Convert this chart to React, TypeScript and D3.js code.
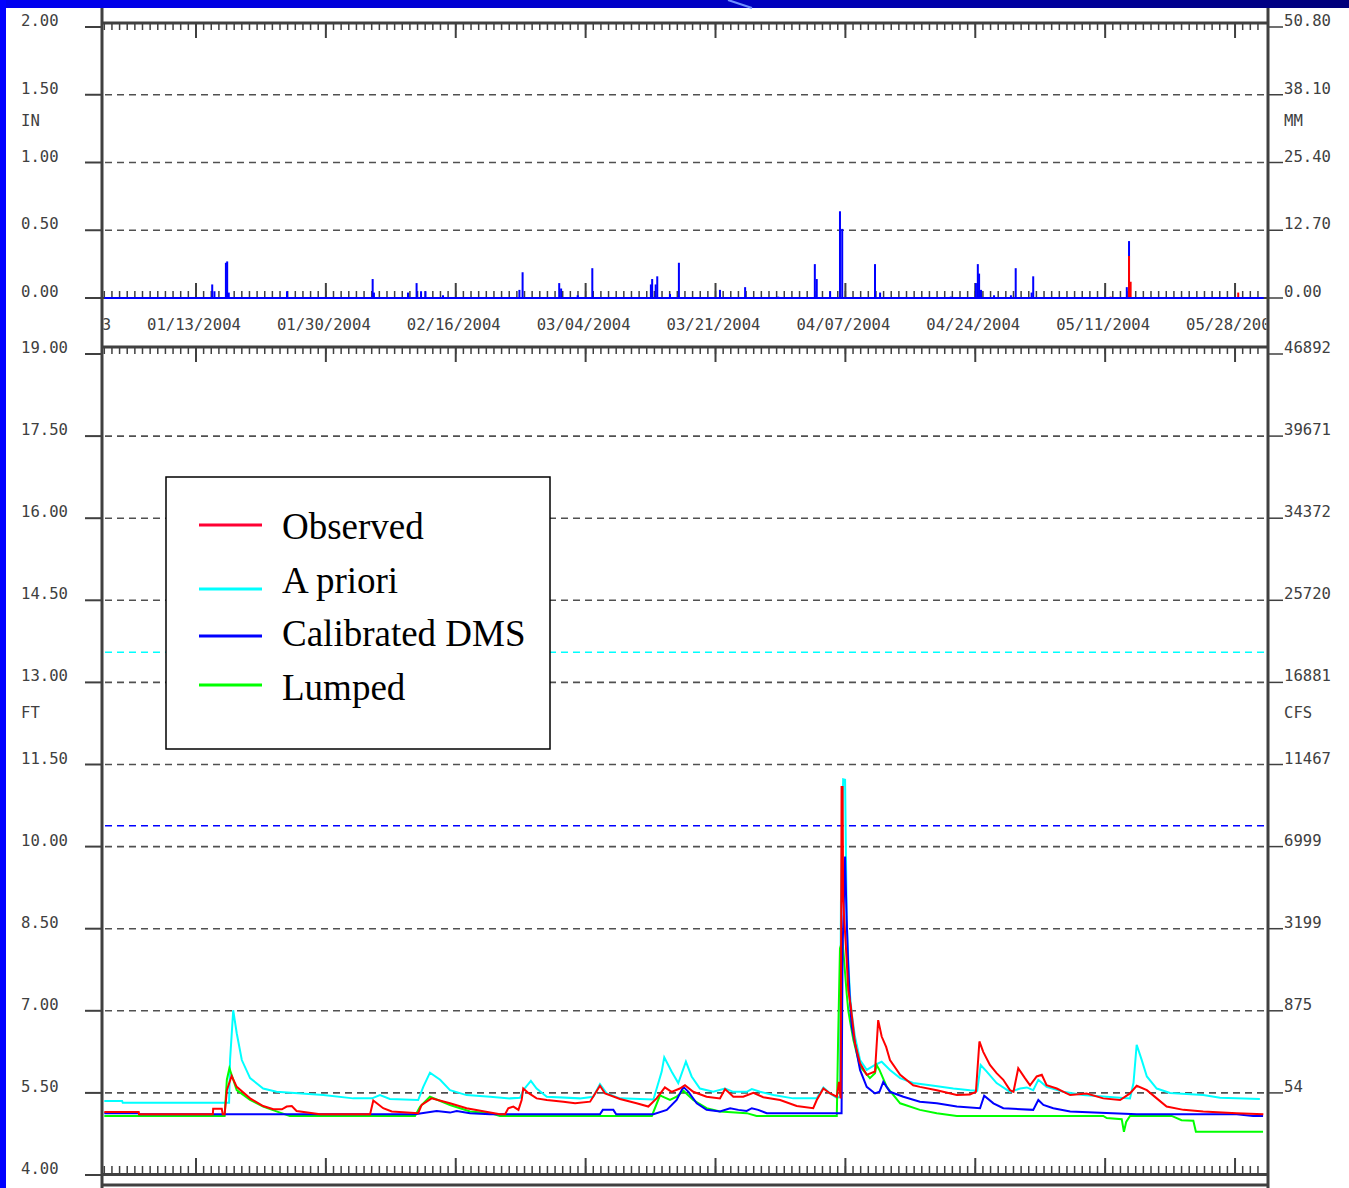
import React from 'react';
import * as d3 from 'd3';

// precipitation (inches), blue = areal estimate, red = gage
const arealPrecip: [string, number][] = [
  ['01-15 03', 0.10], ['01-15 10', 0.05], ['01-16 22', 0.26], ['01-17 02', 0.27], ['01-17 07', 0.04],
  ['01-24 22', 0.05], ['02-05 03', 0.14], ['02-05 07', 0.04], ['02-09 18', 0.04], ['02-10 21', 0.11],
  ['02-11 11', 0.05], ['02-12 01', 0.05], ['02-14 08', 0.02], ['02-24 08', 0.06], ['02-24 18', 0.19],
  ['02-29 13', 0.11], ['02-29 19', 0.07], ['03-02 23', 0.02], ['03-04 21', 0.22], ['03-12 13', 0.10],
  ['03-12 17', 0.14], ['03-13 04', 0.10], ['03-13 09', 0.16], ['03-15 01', 0.03], ['03-16 05', 0.26],
  ['03-21 14', 0.06], ['03-24 21', 0.08], ['03-29 05', 0.01], ['04-03 00', 0.25], ['04-03 06', 0.14],
  ['04-05 00', 0.05], ['04-06 07', 0.64], ['04-06 14', 0.51], ['04-10 21', 0.25], ['04-11 13', 0.04],
  ['04-20 19', 0.01], ['04-24 02', 0.11], ['04-24 08', 0.25], ['04-24 12', 0.18], ['04-24 18', 0.06],
  ['04-26 11', 0.02], ['04-28 16', 0.02], ['04-29 07', 0.22], ['05-01 09', 0.04], ['05-01 14', 0.16],
  ['05-13 20', 0.08], ['05-14 03', 0.42],
];
const gagePrecip: [string, number][] = [
  ['05-11 17', 0.01], ['05-14 03', 0.31], ['05-14 08', 0.12], ['05-28 10', 0.04],
];

// stage (ft)
const observed: [string, number][] = [
  ['01-01 00', 5.15], ['01-05 12', 5.15], ['01-05 13', 5.11], ['01-15 05', 5.11], ['01-15 06', 5.21],
  ['01-16 09', 5.21], ['01-16 12', 5.11], ['01-16 18', 5.11], ['01-17 01', 5.55], ['01-17 16', 5.81],
  ['01-18 08', 5.61], ['01-20 02', 5.40], ['01-21 19', 5.26], ['01-23 03', 5.20], ['01-24 06', 5.20],
  ['01-24 21', 5.25], ['01-25 13', 5.26], ['01-26 04', 5.17], ['01-29 06', 5.11], ['02-04 19', 5.11],
  ['02-05 05', 5.36], ['02-06 12', 5.22], ['02-07 15', 5.16], ['02-11 02', 5.13], ['02-11 13', 5.28],
  ['02-12 20', 5.40], ['02-15 06', 5.31], ['02-17 10', 5.22], ['02-20 12', 5.14], ['02-21 19', 5.11],
  ['02-22 11', 5.11], ['02-22 21', 5.22], ['02-23 13', 5.25], ['02-24 05', 5.19], ['02-24 15', 5.37],
  ['02-24 20', 5.58], ['02-25 12', 5.50], ['02-26 14', 5.40], ['02-27 22', 5.37], ['03-01 02', 5.34],
  ['03-02 15', 5.31], ['03-04 14', 5.34], ['03-05 06', 5.49], ['03-05 21', 5.63], ['03-06 13', 5.49],
  ['03-08 12', 5.39], ['03-10 16', 5.31], ['03-12 05', 5.25], ['03-13 07', 5.40], ['03-14 09', 5.60],
  ['03-15 06', 5.52], ['03-16 08', 5.58], ['03-17 00', 5.64], ['03-18 02', 5.52], ['03-19 20', 5.43],
  ['03-21 14', 5.40], ['03-22 06', 5.57], ['03-23 08', 5.43], ['03-24 15', 5.43], ['03-25 23', 5.50],
  ['03-27 06', 5.42], ['03-29 11', 5.37], ['03-31 15', 5.26], ['04-02 19', 5.22], ['04-03 06', 5.37],
  ['04-04 03', 5.58], ['04-05 00', 5.49], ['04-05 21', 5.43], ['04-06 04', 5.70], ['04-06 09', 5.40],
  ['04-06 12', 11.09], ['04-06 15', 11.09], ['04-06 17', 9.02], ['04-07 04', 7.93], ['04-07 09', 7.38],
  ['04-07 17', 7.08], ['04-08 06', 6.41], ['04-08 22', 6.04], ['04-09 19', 5.83], ['04-10 21', 5.89],
  ['04-11 07', 6.83], ['04-11 18', 6.53], ['04-12 08', 6.34], ['04-12 20', 6.10], ['04-14 04', 5.83],
  ['04-15 21', 5.64], ['04-16 18', 5.61], ['04-18 23', 5.55], ['04-21 14', 5.46], ['04-23 07', 5.47],
  ['04-24 02', 5.52], ['04-24 13', 6.44], ['04-25 01', 6.25], ['04-25 22', 6.01], ['04-26 19', 5.86],
  ['04-27 16', 5.74], ['04-28 13', 5.55], ['04-29 00', 5.52], ['04-29 15', 5.95], ['04-30 12', 5.77],
  ['05-01 04', 5.64], ['05-02 01', 5.80], ['05-02 17', 5.83], ['05-03 08', 5.64], ['05-04 16', 5.58],
  ['05-06 10', 5.46], ['05-08 14', 5.49], ['05-10 18', 5.40], ['05-12 23', 5.37], ['05-14 06', 5.49],
  ['05-15 03', 5.63], ['05-16 11', 5.55], ['05-17 18', 5.40], ['05-19 01', 5.25], ['05-21 06', 5.19],
  ['05-23 20', 5.16], ['05-28 05', 5.13], ['05-31 17', 5.11],
];
const aPriori: [string, number][] = [
  ['01-01 00', 5.35], ['01-03 08', 5.35], ['01-03 10', 5.32], ['01-17 08', 5.32], ['01-17 11', 6.10],
  ['01-17 21', 7.01], ['01-18 08', 6.59], ['01-19 00', 6.10], ['01-20 02', 5.77], ['01-21 19', 5.58],
  ['01-23 13', 5.52], ['01-29 16', 5.46], ['02-02 14', 5.40], ['02-05 01', 5.40], ['02-06 02', 5.46],
  ['02-07 09', 5.39], ['02-11 02', 5.37], ['02-11 18', 5.61], ['02-12 15', 5.87], ['02-13 23', 5.74],
  ['02-15 06', 5.55], ['02-17 10', 5.46], ['02-20 12', 5.43], ['02-23 02', 5.40], ['02-24 10', 5.41],
  ['02-24 20', 5.55], ['02-25 20', 5.72], ['02-26 14', 5.58], ['02-27 22', 5.43], ['03-03 06', 5.40],
  ['03-05 00', 5.43], ['03-05 21', 5.66], ['03-06 18', 5.49], ['03-08 12', 5.40], ['03-12 21', 5.38],
  ['03-13 23', 5.89], ['03-14 07', 6.15], ['03-15 06', 5.89], ['03-16 03', 5.68], ['03-17 03', 6.07],
  ['03-17 21', 5.80], ['03-18 23', 5.58], ['03-20 17', 5.52], ['03-22 06', 5.58], ['03-23 08', 5.52],
  ['03-25 02', 5.52], ['03-25 18', 5.57], ['03-26 20', 5.52], ['03-28 14', 5.46], ['03-31 04', 5.40],
  ['04-03 06', 5.40], ['04-04 03', 5.60], ['04-05 00', 5.49], ['04-05 21', 5.41], ['04-06 07', 5.43],
  ['04-06 10', 8.97], ['04-06 17', 11.23], ['04-06 23', 11.22], ['04-07 04', 8.72], ['04-07 09', 7.93],
  ['04-07 14', 7.32], ['04-07 20', 6.95], ['04-08 06', 6.53], ['04-08 22', 6.10], ['04-09 19', 5.92],
  ['04-10 21', 6.01], ['04-11 18', 6.07], ['04-12 20', 5.92], ['04-14 04', 5.77], ['04-15 21', 5.68],
  ['04-18 02', 5.64], ['04-21 03', 5.58], ['04-23 07', 5.55], ['04-24 06', 5.54], ['04-24 17', 6.01],
  ['04-25 12', 5.89], ['04-26 19', 5.68], ['04-28 13', 5.52], ['04-29 21', 5.58], ['04-30 18', 5.60],
  ['05-01 14', 5.55], ['05-02 06', 5.74], ['05-03 08', 5.61], ['05-05 12', 5.52], ['05-08 03', 5.46],
  ['05-14 06', 5.40], ['05-14 17', 5.68], ['05-15 03', 6.38], ['05-15 19', 6.10], ['05-16 11', 5.80],
  ['05-17 18', 5.58], ['05-19 12', 5.50], ['05-23 20', 5.46], ['05-26 01', 5.41], ['05-31 06', 5.39],
];
const calibratedDMS: [string, number][] = [
  ['01-01 00', 5.13], ['01-05 12', 5.13], ['01-05 13', 5.11], ['02-10 16', 5.11], ['02-13 12', 5.17],
  ['02-15 06', 5.14], ['02-16 03', 5.17], ['02-17 21', 5.13], ['02-20 12', 5.11], ['03-05 21', 5.11],
  ['03-06 06', 5.19], ['03-07 15', 5.19], ['03-08 00', 5.11], ['03-12 21', 5.11], ['03-14 15', 5.19],
  ['03-15 22', 5.37], ['03-16 19', 5.61], ['03-17 11', 5.52], ['03-18 13', 5.31], ['03-19 20', 5.19],
  ['03-21 14', 5.16], ['03-22 22', 5.22], ['03-24 00', 5.19], ['03-25 02', 5.17], ['03-25 18', 5.22],
  ['03-26 14', 5.19], ['03-27 17', 5.13], ['04-06 12', 5.13], ['04-06 15', 8.10], ['04-06 23', 9.82],
  ['04-07 04', 8.66], ['04-07 09', 7.81], ['04-07 14', 7.20], ['04-07 20', 6.71], ['04-08 06', 6.41],
  ['04-08 22', 5.92], ['04-09 19', 5.61], ['04-10 21', 5.49], ['04-11 11', 5.52], ['04-11 23', 5.70],
  ['04-12 20', 5.52], ['04-14 14', 5.43], ['04-16 18', 5.34], ['04-18 23', 5.31], ['04-21 14', 5.25],
  ['04-24 15', 5.22], ['04-25 04', 5.45], ['04-26 09', 5.31], ['04-27 16', 5.22], ['05-01 14', 5.19],
  ['05-02 06', 5.37], ['05-02 22', 5.28], ['05-04 05', 5.22], ['05-06 10', 5.16], ['05-15 03', 5.11],
  ['05-28 05', 5.11], ['05-30 09', 5.08], ['05-31 16', 5.08],
];
const lumped: [string, number][] = [
  ['01-01 00', 5.08], ['01-16 18', 5.08], ['01-17 01', 5.74], ['01-17 09', 5.95], ['01-18 08', 5.55],
  ['01-20 02', 5.37], ['01-21 19', 5.25], ['01-24 00', 5.14], ['01-25 07', 5.08], ['02-10 16', 5.08],
  ['02-11 08', 5.25], ['02-12 15', 5.43], ['02-15 06', 5.28], ['02-17 21', 5.16], ['02-20 12', 5.13],
  ['02-21 19', 5.08], ['03-12 16', 5.08], ['03-13 18', 5.46], ['03-14 02', 5.43], ['03-15 01', 5.37],
  ['03-15 22', 5.43], ['03-16 19', 5.54], ['03-18 02', 5.37], ['03-19 20', 5.22], ['03-21 14', 5.16],
  ['03-25 02', 5.13], ['03-26 09', 5.08], ['04-05 21', 5.08], ['04-06 01', 6.44], ['04-06 07', 8.14],
  ['04-06 15', 8.29], ['04-06 23', 7.69], ['04-07 04', 7.32], ['04-07 09', 7.01], ['04-07 14', 6.83],
  ['04-08 01', 6.47], ['04-08 22', 5.98], ['04-10 05', 5.77], ['04-10 21', 5.86], ['04-11 02', 6.01],
  ['04-11 11', 5.92], ['04-12 10', 5.61], ['04-14 04', 5.31], ['04-16 18', 5.19], ['04-18 23', 5.13],
  ['04-21 14', 5.08], ['05-10 18', 5.08], ['05-11 05', 5.04], ['05-13 04', 5.02], ['05-13 11', 4.79],
  ['05-13 18', 4.97], ['05-14 06', 5.08], ['05-19 17', 5.08], ['05-21 00', 5.00], ['05-22 13', 4.99],
  ['05-22 21', 4.79], ['05-31 16', 4.79],
];

const dateTicks = ['12/27/2003', '01/13/2004', '01/30/2004', '02/16/2004', '03/04/2004',
  '03/21/2004', '04/07/2004', '04/24/2004', '05/11/2004', '05/28/2004'];
const precipTicks = [2, 1.5, 1, 0.5, 0];
const precipMM = ['50.80', '38.10', '25.40', '12.70', '0.00'];
const stageTicks = [19, 17.5, 16, 14.5, 13, 11.5, 10, 8.5, 7, 5.5, 4];
const flowLabels = ['46892', '39671', '34372', '25720', '16881', '11467', '6999', '3199', '875', '54'];
const floodStage = 13.55;
const actionStage = 10.38;

const series = [
  { name: 'A priori', data: aPriori, color: '#00ffff' },
  { name: 'Lumped', data: lumped, color: '#00ff00' },
  { name: 'Calibrated DMS', data: calibratedDMS, color: '#0000ff' },
  { name: 'Observed', data: observed, color: '#ff0000' },
];
const legendItems = [
  { label: 'Observed', color: '#ff0033' },
  { label: 'A priori', color: '#00ffff' },
  { label: 'Calibrated DMS', color: '#0000ff' },
  { label: 'Lumped', color: '#00ff00' },
];

const AXIS = '#404040';
const MONO = '"DejaVu Sans Mono", monospace';

const App: React.FC = () => {
  const parseT = d3.timeParse('%Y-%m-%d %H');
  const t = (s: string) => parseT('2004-' + s) as Date;
  const parseTick = d3.timeParse('%m/%d/%Y');

  const start = new Date(2004, 0, 1);
  const end = new Date(2004, 5, 1);
  const x = d3.scaleTime().domain([start, end]).range([104.3, 1265.6]);
  const yP = d3.scaleLinear().domain([0, 2]).range([298, 27]);
  const yS = d3.scaleLinear().domain([4, 19]).range([1175, 354]);

  const line = d3.line<[string, number]>()
    .x(d => x(t(d[0])))
    .y(d => yS(d[1]));

  const days = d3.timeDay.range(start, end);
  const majors = dateTicks.map(s => parseTick(s) as Date);
  const majorInRange = majors.filter(d => d >= start && d < end);

  const left = 102;
  const right = 1268;
  const gx0 = 105;
  const gx1 = 1265;

  const xTicks = (y0: number, dir: number, minorLen: number, majorLen: number, key: string) => (
    <g key={key}>
      {days.map((d, i) => (
        <line key={i} x1={x(d)} x2={x(d)} y1={y0} y2={y0 + dir * minorLen} stroke={AXIS} strokeWidth={1.5} />
      ))}
      {majorInRange.map((d, i) => (
        <line key={'m' + i} x1={x(d)} x2={x(d)} y1={y0} y2={y0 + dir * majorLen} stroke={AXIS} strokeWidth={2} />
      ))}
    </g>
  );

  return (
    <svg
      width={1349}
      height={1188}
      viewBox="0 0 1349 1188"
      style={{ position: 'absolute', left: 0, top: 0, display: 'block', background: '#fff' }}
    >
      <defs>
        <linearGradient id="band" x1="0" x2="1" y1="0" y2="0">
          <stop offset="0%" stopColor="#0000f0" />
          <stop offset="55%" stopColor="#0000c0" />
          <stop offset="100%" stopColor="#00007a" />
        </linearGradient>
        <clipPath id="xlab">
          <rect x={left + 1.5} y={300} width={right - left - 3} height={45} />
        </clipPath>
      </defs>

      {/* slide background edges */}
      <rect x={0} y={0} width={1349} height={8} fill="url(#band)" />
      <line x1={728} y1={0} x2={752} y2={8} stroke="#6f8fff" strokeWidth={2} />
      <rect x={0} y={0} width={6} height={1188} fill="#0000ff" />

      {/* ---------- precipitation panel ---------- */}
      {precipTicks.slice(1, 4).map(v => (
        <line key={'pg' + v} x1={gx0} x2={gx1} y1={yP(v)} y2={yP(v)} stroke="#505050" strokeWidth={1.6} strokeDasharray="7,5" />
      ))}
      {precipTicks.map((v, i) => (
        <g key={'pt' + v}>
          <line x1={85} x2={left} y1={yP(v)} y2={yP(v)} stroke={AXIS} strokeWidth={2} />
          <line x1={right} x2={1283} y1={yP(v)} y2={yP(v)} stroke={AXIS} strokeWidth={1.5} />
          <text x={21} y={yP(v) - 1} fontFamily={MONO} fontSize={15.6} fill={AXIS}>{v.toFixed(2)}</text>
          <text x={1284} y={yP(v) - 1} fontFamily={MONO} fontSize={15.6} fill={AXIS}>{precipMM[i]}</text>
        </g>
      ))}
      <text x={21} y={126} fontFamily={MONO} fontSize={15.6} fill={AXIS}>IN</text>
      <text x={1284} y={126} fontFamily={MONO} fontSize={15.6} fill={AXIS}>MM</text>

      <line x1={left - 1} x2={right + 1} y1={23} y2={23} stroke={AXIS} strokeWidth={3} />
      {xTicks(24, 1, 6, 14, 'tt')}
      <line x1={left} x2={right} y1={298} y2={298} stroke={AXIS} strokeWidth={2} />
      {xTicks(298, -1, 7, 15, 'tb')}

      {arealPrecip.map(([d, v], i) => (
        <rect key={'ap' + i} x={x(t(d)) - 1} y={yP(v)} width={2} height={yP(0) - yP(v)} fill="#0000ff" />
      ))}
      {gagePrecip.map(([d, v], i) => (
        <rect key={'gp' + i} x={x(t(d)) - 1} y={yP(v)} width={2} height={yP(0) - yP(v)} fill="#ff0000" />
      ))}
      <line x1={x(start)} x2={x(t('05-31 18'))} y1={yP(0)} y2={yP(0)} stroke="#0000ff" strokeWidth={2} />

      {/* date labels */}
      <g clipPath="url(#xlab)">
        {majors.map((d, i) => (
          <text key={'xl' + i} x={x(d) - 2} y={330} textAnchor="middle" fontFamily={MONO} fontSize={15.6} fill={AXIS}>
            {dateTicks[i]}
          </text>
        ))}
      </g>

      {/* ---------- stage panel ---------- */}
      {stageTicks.slice(1, 10).map(v => (
        <line key={'sg' + v} x1={gx0} x2={gx1} y1={yS(v)} y2={yS(v)} stroke="#505050" strokeWidth={1.6} strokeDasharray="7,5" />
      ))}
      <line x1={gx0} x2={gx1} y1={yS(floodStage)} y2={yS(floodStage)} stroke="#00ffff" strokeWidth={1.6} strokeDasharray="7,5" />
      <line x1={gx0} x2={gx1} y1={yS(actionStage)} y2={yS(actionStage)} stroke="#0000ff" strokeWidth={1.6} strokeDasharray="7,5" />

      {stageTicks.map((v, i) => (
        <g key={'st' + v}>
          <line x1={85} x2={left} y1={yS(v)} y2={yS(v)} stroke={AXIS} strokeWidth={2} />
          <text x={21} y={yS(v) - 1} fontFamily={MONO} fontSize={15.6} fill={AXIS}>{v.toFixed(2)}</text>
          {flowLabels[i] !== undefined && (
            <>
              <line x1={right} x2={1283} y1={yS(v)} y2={yS(v)} stroke={AXIS} strokeWidth={1.5} />
              <text x={1284} y={yS(v) - 1} fontFamily={MONO} fontSize={15.6} fill={AXIS}>{flowLabels[i]}</text>
            </>
          )}
        </g>
      ))}
      <text x={21} y={718} fontFamily={MONO} fontSize={15.6} fill={AXIS}>FT</text>
      <text x={1284} y={718} fontFamily={MONO} fontSize={15.6} fill={AXIS}>CFS</text>

      <line x1={left - 1} x2={right + 1} y1={347} y2={347} stroke={AXIS} strokeWidth={3} />
      {xTicks(348, 1, 6, 14, 'bt')}
      <line x1={left} x2={right} y1={1174.5} y2={1174.5} stroke={AXIS} strokeWidth={3} />
      {xTicks(1173, -1, 7, 15, 'bb')}
      <line x1={left - 1} x2={right + 1} y1={1185} y2={1185} stroke={AXIS} strokeWidth={3} />

      {series.map(s => (
        <path key={s.name} d={line(s.data) || ''} fill="none" stroke={s.color} strokeWidth={2} strokeLinejoin="miter" />
      ))}

      {/* vertical frame */}
      <line x1={left} x2={left} y1={8} y2={1188} stroke={AXIS} strokeWidth={3} />
      <line x1={right} x2={right} y1={8} y2={1188} stroke={AXIS} strokeWidth={3} />

      {/* legend */}
      <rect x={166} y={477} width={384} height={272} fill="#fff" stroke="#000" strokeWidth={1.5} />
      {legendItems.map((it, i) => {
        const ly = [525, 589, 636, 685][i];
        const ty = [539, 593, 646, 700][i];
        return (
          <g key={it.label}>
            <line x1={199} x2={262} y1={ly} y2={ly} stroke={it.color} strokeWidth={3} />
            <text x={282} y={ty} fontFamily={'"Liberation Serif", "Times New Roman", serif'} fontSize={37} fill="#000">
              {it.label}
            </text>
          </g>
        );
      })}
    </svg>
  );
};

export default App;
